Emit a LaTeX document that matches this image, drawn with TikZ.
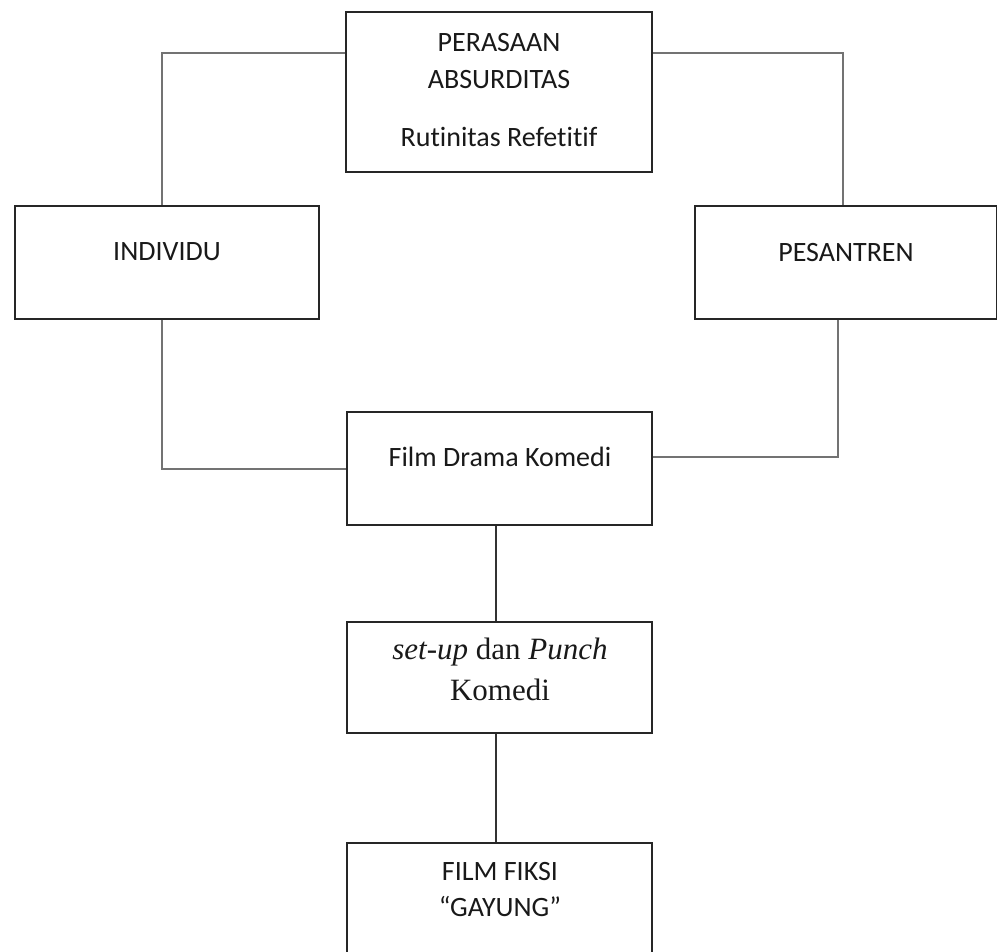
\documentclass[tikz,border=0pt]{standalone}
\usepackage{fontspec}
\setmainfont{Carlito}[Ligatures=NoCommon]
\newfontfamily\tnr{Liberation Serif}
\begin{document}
\begin{tikzpicture}[x=1pt,y=-1pt,
  box/.style={draw=black!85, line width=2pt, inner sep=0pt},
  conn/.style={draw=black!55, line width=1.2pt},
  connb/.style={draw=black!80, line width=1.2pt},
  txt/.style={inner sep=0pt, anchor=center, font=\fontsize{28}{32}\selectfont, text=black!90},
  stxt/.style={inner sep=0pt, anchor=center, font=\tnr\fontsize{31}{35}\selectfont, text=black!90}]
\useasboundingbox (0,0) rectangle (997,952);
% boxes
\node[box, minimum width=306pt, minimum height=160pt] (top) at (499,92) {};
\node[box, minimum width=304pt, minimum height=113pt] (ind) at (167,262.5) {};
\node[box, minimum width=302pt, minimum height=113pt] (pes) at (845.5,262.5) {};
\node[box, minimum width=305pt, minimum height=113pt] (mid) at (499.5,468.5) {};
\node[box, minimum width=305pt, minimum height=111pt] (set) at (499.5,677.5) {};
\node[box, minimum width=305pt, minimum height=120pt] (fik) at (499.5,903) {};
% texts
\node[txt] (t1) at (499,43) {PERASAAN};
\node[txt] (t2) at (499,80) {ABSURDITAS};
\node[txt] (t3) at (499,137) {Rutinitas Refetitif};
\node[txt] (t4) at (167,252) {INDIVIDU};
\node[txt] (t5) at (846,253) {PESANTREN};
\node[txt] (t6) at (500,457) {Film Drama Komedi};
\node[stxt] (t7) at (500,652) {\textit{set-up} dan \textit{Punch}};
\node[stxt] (t8) at (500,690) {Komedi};
\node[txt] (t9) at (500,872) {FILM FIKSI};
\node[txt] (t10) at (500,907) {“GAYUNG”};
% connectors
\coordinate (lt) at (162,53);
\coordinate (rt) at (843,53);
\coordinate (lb) at (162,469);
\coordinate (rb) at (838,457);
\draw[conn] (top.west |- lt) -- (lt) -- (ind.north -| lt);
\draw[conn] (top.east |- rt) -- (rt) -- (pes.north -| rt);
\draw[conn] (ind.south -| lb) -- (lb) -- (mid.west |- lb);
\draw[conn] (pes.south -| rb) -- (rb) -- (mid.east |- rb);
\draw[connb] (mid.south -| 496,0) -- (set.north -| 496,0);
\draw[connb] (set.south -| 496,0) -- (fik.north -| 496,0);
\end{tikzpicture}
\end{document}
